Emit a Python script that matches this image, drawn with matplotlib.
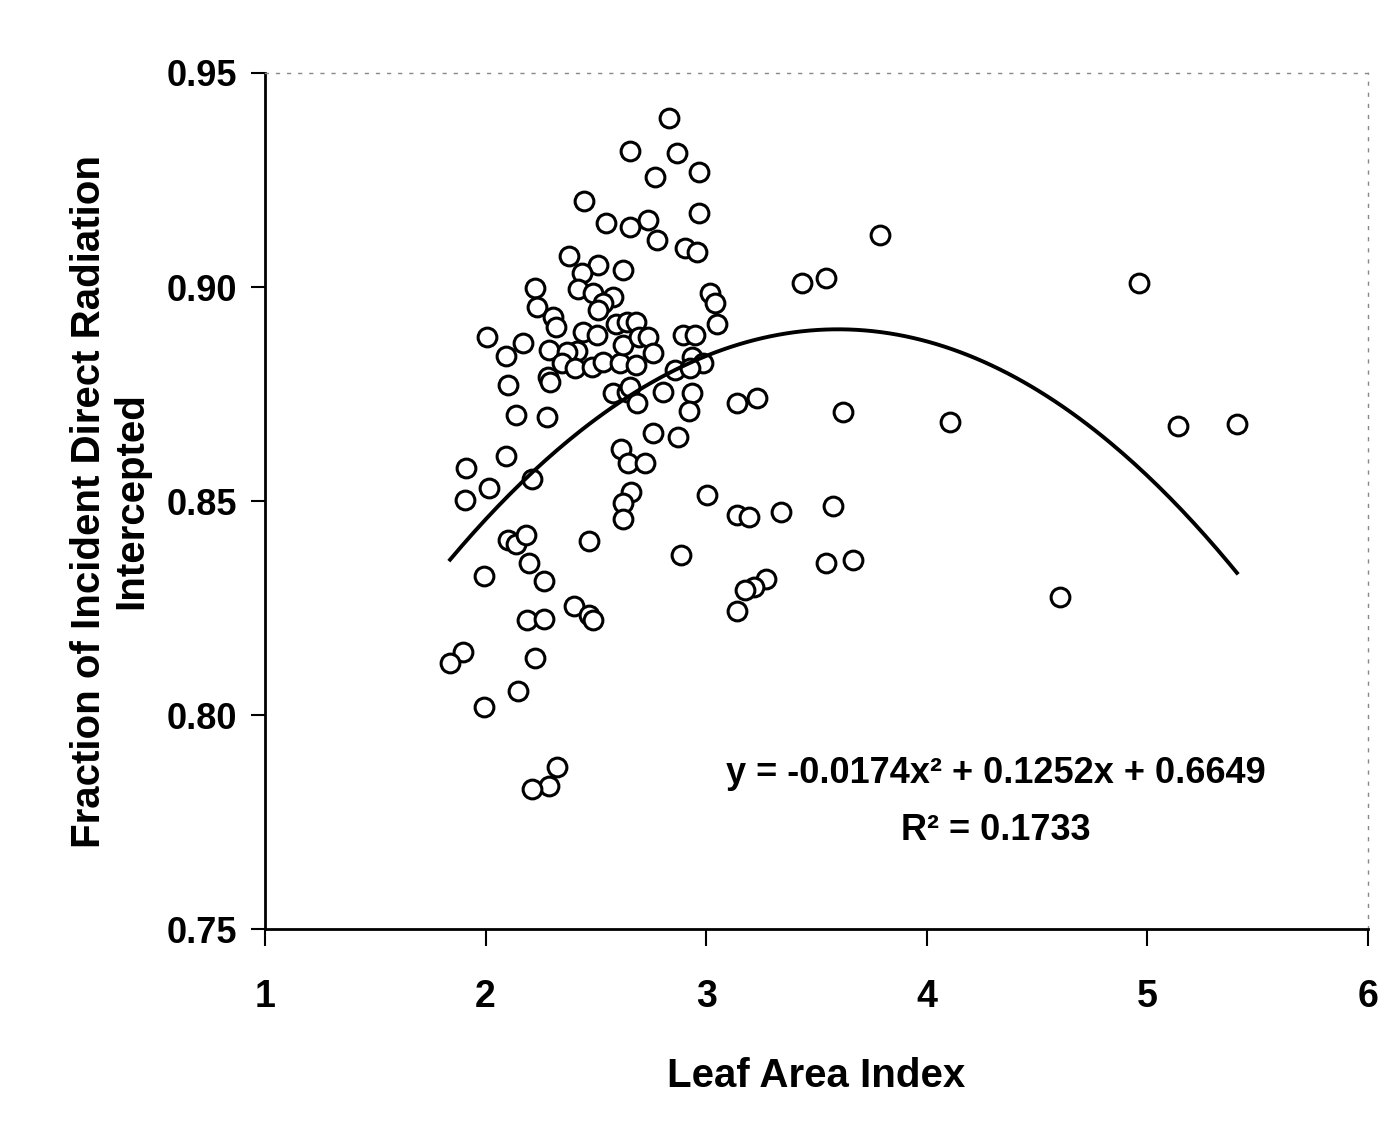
"""Fraction of incident direct radiation intercepted vs. leaf area index."""

import matplotlib

matplotlib.use("Agg")
import matplotlib.pyplot as plt
import numpy as np

# leaf area index (x) and fraction intercepted (y)
LAI = [
    2.831, 2.655, 2.868, 2.967, 2.768, 2.446, 2.546, 2.736, 2.655, 2.967,
    2.777, 2.904, 2.958, 2.378, 2.510, 2.623, 2.437, 2.224, 2.419, 2.487,
    2.578, 2.532, 2.510, 2.233, 2.306, 2.319, 2.591, 2.641, 2.442, 2.505,
    2.006, 2.170, 2.092, 2.287, 2.414, 2.369, 2.346, 2.405, 2.482, 2.532,
    2.609, 2.623, 2.283, 2.292, 2.102, 2.578, 2.641, 2.138, 2.278, 3.017,
    3.040, 3.049, 2.682, 2.695, 2.736, 2.895, 2.949, 2.759, 2.682, 2.936,
    2.985, 2.859, 2.927, 2.655, 2.804, 2.936, 2.686, 2.922, 3.140, 3.230,
    3.620, 3.788, 3.434, 3.543, 2.759, 2.872, 2.614, 2.646, 2.723, 2.092,
    1.911, 2.015, 1.907, 2.210, 2.659, 2.623, 2.623, 2.469, 2.102, 2.138,
    2.183, 2.197, 2.265, 1.993, 2.886, 2.401, 2.469, 2.487, 2.188, 2.265,
    1.898, 1.839, 2.224, 2.147, 1.993, 2.324, 2.287, 2.210, 3.004, 3.140,
    3.194, 3.339, 3.575, 3.543, 3.665, 3.271, 3.217, 3.176, 3.140, 4.105,
    4.962, 5.139, 5.406, 4.604,
]
FRACTION = [
    0.9395, 0.9318, 0.9313, 0.9269, 0.9257, 0.9201, 0.9150, 0.9157, 0.9140, 0.9173,
    0.9110, 0.9091, 0.9082, 0.9072, 0.9051, 0.9040, 0.9033, 0.8998, 0.8995, 0.8986,
    0.8977, 0.8963, 0.8946, 0.8953, 0.8930, 0.8907, 0.8914, 0.8918, 0.8895, 0.8888,
    0.8883, 0.8869, 0.8839, 0.8853, 0.8850, 0.8848, 0.8822, 0.8811, 0.8813, 0.8825,
    0.8822, 0.8864, 0.8790, 0.8778, 0.8771, 0.8752, 0.8755, 0.8701, 0.8696, 0.8986,
    0.8963, 0.8914, 0.8918, 0.8883, 0.8883, 0.8888, 0.8888, 0.8846, 0.8818, 0.8836,
    0.8822, 0.8806, 0.8811, 0.8766, 0.8755, 0.8752, 0.8729, 0.8710, 0.8729, 0.8741,
    0.8708, 0.9121, 0.9009, 0.9021, 0.8659, 0.8650, 0.8621, 0.8589, 0.8589, 0.8605,
    0.8577, 0.8530, 0.8502, 0.8551, 0.8521, 0.8495, 0.8458, 0.8407, 0.8409, 0.8400,
    0.8421, 0.8355, 0.8313, 0.8325, 0.8374, 0.8255, 0.8234, 0.8222, 0.8222, 0.8224,
    0.8147, 0.8121, 0.8133, 0.8056, 0.8019, 0.7879, 0.7834, 0.7827, 0.8514, 0.8467,
    0.8463, 0.8474, 0.8488, 0.8355, 0.8362, 0.8318, 0.8299, 0.8292, 0.8243, 0.8685,
    0.9009, 0.8675, 0.8680, 0.8276,
]

# polynomial trendline as printed on the chart
FIT_COEFFS = [-0.0174, 0.1252, 0.6649]
EQUATION = "y = -0.0174x² + 0.1252x + 0.6649"
R_SQUARED = "R² = 0.1733"

X_TICKS = [1, 2, 3, 4, 5, 6]
Y_TICKS = [0.75, 0.80, 0.85, 0.90, 0.95]

FONT = ["Liberation Sans", "DejaVu Sans"]


def main() -> None:
    fig = plt.figure(figsize=(13.97, 11.37), dpi=100)
    ax = fig.add_axes([0.1897, 0.1829, 0.7895, 0.7529])

    ax.plot(LAI, FRACTION, linestyle="none", marker="o", markersize=13.5,
            markerfacecolor="white", markeredgecolor="black", markeredgewidth=2.2)

    xs = np.linspace(min(LAI), max(LAI), 200)
    ax.plot(xs, np.polyval(FIT_COEFFS, xs), color="black", linewidth=2.8)

    ax.text(4.314, 0.7864, EQUATION, ha="center", va="center", fontsize=26,
            fontweight="bold", family=FONT)
    ax.text(4.314, 0.7731, R_SQUARED, ha="center", va="center", fontsize=26,
            fontweight="bold", family=FONT)

    ax.set_xlim(1, 6)
    ax.set_ylim(0.75, 0.95)
    ax.set_xticks(X_TICKS)
    ax.set_yticks(Y_TICKS)
    ax.set_xticklabels([str(t) for t in X_TICKS], fontsize=27, fontweight="bold",
                       family=FONT)
    ax.set_yticklabels([f"{t:.2f}" for t in Y_TICKS], fontsize=26, fontweight="bold",
                       family=FONT)
    ax.tick_params(axis="x", direction="out", length=12, width=1.5, pad=24)
    ax.tick_params(axis="y", direction="out", length=10, width=1.5, pad=10)

    for side in ("left", "bottom"):
        ax.spines[side].set_linewidth(2)
        ax.spines[side].set_color("black")
    for side in ("top", "right"):
        ax.spines[side].set_linewidth(1)
        ax.spines[side].set_color("#888888")
        ax.spines[side].set_linestyle((0, (2, 6)))

    ax.set_xlabel("Leaf Area Index", fontsize=29, fontweight="bold", family=FONT,
                  labelpad=30)
    ax.set_ylabel("Fraction of Incident Direct Radiation\nIntercepted", fontsize=29,
                  fontweight="bold", family=FONT, labelpad=12, linespacing=1.15)

    fig.savefig("out.png", dpi=100, facecolor="white")


if __name__ == "__main__":
    main()
